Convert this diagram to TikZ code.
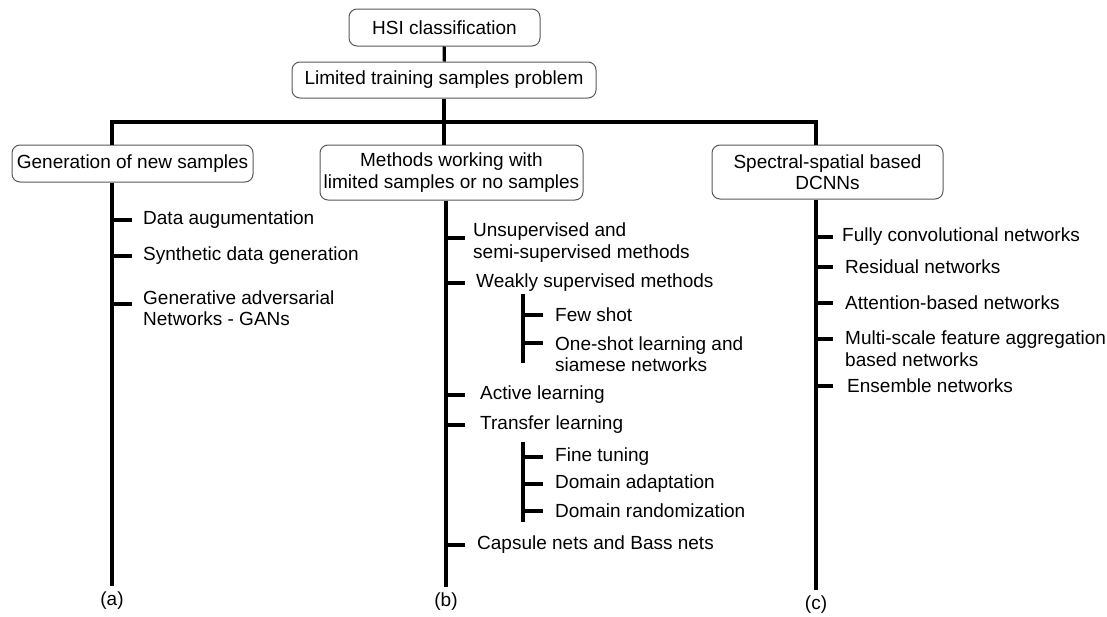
\documentclass[tikz,border=0pt]{standalone}
\usepackage{fontspec}
\setmainfont{Liberation Sans}
\tikzset{
    box/.style={draw=black!65, line width=1pt, rounded corners=8pt, fill=white, align=center, inner sep=2pt},
    item/.style={anchor=west, align=left, inner sep=0},
    bar/.style={line width=3.3pt, line cap=butt},
    tag/.style={inner sep=0}
}

\begin{document}
\begin{tikzpicture}[x=1pt, y=-1pt, font=\fontsize{19}{21.5}\selectfont]
    \useasboundingbox (0,0) rectangle (1107,616);
    % top of the tree
    \node[box, minimum width=191, minimum height=37] (hsi) at (444.5,27.5) {HSI classification};
    \node[box, minimum width=304, minimum height=36] (lim) at (444,80) {Limited training samples problem};
    \coordinate (split) at (444,122);
    \node[box, minimum width=241, minimum height=37] (gen) at (132.5,163.5) {Generation of new samples};
    \node[box, minimum width=263, minimum height=55] (meth) at (451.5,172.5) {Methods working with\\limited samples or no samples};
    \node[box, minimum width=231, minimum height=54] (spec) at (827.5,172) {Spectral-spatial based\\DCNNs};
    \node[tag] (la) at (112,601) {(a)};
    \node[tag] (lb) at (446,602) {(b)};
    \node[tag] (lc) at (816,605) {(c)};
    \draw[bar] (hsi) -- (lim);
    \draw[bar] (lim) -- (split);
    \draw[bar] (gen.north -| la) |- (split) -| (spec.north -| lc);
    \draw[bar] (split) -- (meth.north -| split);
    \draw[bar] (gen.south -| la) -- ([yshift=6pt]la.north);
    \draw[bar] (meth.south -| lb) -- ([yshift=6pt]lb.north);
    \draw[bar] (spec.south -| lc) -- ([yshift=6pt]lc.north);

    % (a)
    \node[item] (da) at (143,220) {Data augumentation};
    \node[item] (sd) at (143,256) {Synthetic data generation};
    \node[item] (ga) at (143,308) {Generative adversarial\\Networks - GANs};
    \foreach \n/\dy in {da/0, sd/0, ga/4}
        \draw[bar] ([yshift=\dy pt]\n.west -| la) -- ([xshift=-11pt,yshift=\dy pt]\n.west);

    % (b)
    \node[item] (us) at (473,242.5) {Unsupervised and\\semi-supervised methods};
    \node[item] (ws) at (476,283) {Weakly supervised methods};
    \node[item] (fs) at (555,315) {Few shot};
    \node[item] (os) at (555,354) {One-shot learning and\\siamese networks};
    \node[item] (al) at (480,395) {Active learning};
    \node[item] (tl) at (480,425) {Transfer learning};
    \node[item] (ft) at (555,457) {Fine tuning};
    \node[item] (dad) at (555,484) {Domain adaptation};
    \node[item] (dr) at (555,511) {Domain randomization};
    \node[item] (cn) at (477,545) {Capsule nets and Bass nets};
    \coordinate (wsb) at (523,294);
    \coordinate (tlb) at (523,442);
    \draw[bar] (wsb) -- (wsb |- 0,363);
    \draw[bar] (tlb) -- (tlb |- 0,522);
    \foreach \n/\dy in {us/4.5, ws/0, al/0, tl/0, cn/0}
        \draw[bar] ([yshift=\dy pt]\n.west -| lb) -- ([yshift=\dy pt]\n.west -| 465,0);
    \foreach \n/\dy in {fs/0, os/11}
        \draw[bar] ([yshift=\dy pt]\n.west -| wsb) -- ([xshift=-12pt,yshift=\dy pt]\n.west);
    \foreach \n in {ft, dad, dr}
        \draw[bar] (\n.west -| tlb) -- ([xshift=-12pt]\n.west);

    % (c)
    \node[item] (fc) at (842,237) {Fully convolutional networks};
    \node[item] (rn) at (845,267) {Residual networks};
    \node[item] (ab) at (845,303) {Attention-based networks};
    \node[item] (ms) at (845,348.5) {Multi-scale feature aggregation\\based networks};
    \node[item] (en) at (847,386) {Ensemble networks};
    \foreach \n/\dy in {fc/0, rn/0, ab/0, ms/9.5, en/0}
        \draw[bar] ([yshift=\dy pt]\n.west -| lc) -- ([yshift=\dy pt]\n.west -| 833,0);
\end{tikzpicture}
\end{document}
